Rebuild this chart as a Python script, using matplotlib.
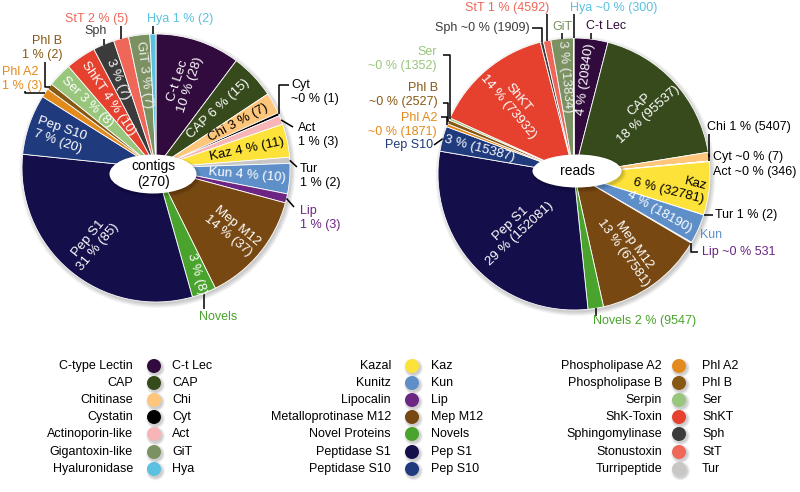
import numpy as np
import matplotlib.pyplot as plt
from matplotlib.patches import Circle, Ellipse

plt.rcParams['font.family'] = ['Liberation Sans', 'DejaVu Sans']

W, H = 800, 492

# slice order, clockwise from 12 o'clock
abbrev = ['C-t Lec', 'CAP', 'Chi', 'Cyt', 'Act', 'Kaz', 'Tur', 'Kun', 'Lip', 'Mep M12', 'Novels',
          'Pep S1', 'Pep S10', 'Phl A2', 'Phl B', 'Ser', 'ShKT', 'Sph', 'StT', 'GiT', 'Hya']
contigs = [28, 15, 7, 1, 3, 11, 2, 10, 3, 37, 8, 85, 20, 3, 2, 8, 10, 7, 5, 7, 2]
contig_pct = ['10', '6', '3', '~0', '1', '4', '1', '4', '1', '14', '3', '31', '7', '1', '1', '3', '4', '3', '2', '3', '1']
reads = [20840, 95537, 5407, 7, 346, 32781, 2, 18190, 531, 67581, 9547, 152081, 15387, 1871, 2527,
         1352, 73932, 1909, 4592, 13834, 300]
read_pct = ['4', '18', '1', '~0', '~0', '6', '1', '4', '~0', '13', '2', '29', '3', '~0', '~0', '~0', '14',
            '~0', '1', '3', '~0']

colors = {
    'C-t Lec': '#310b3d', 'CAP': '#364a1c', 'Chi': '#fec67a', 'Cyt': '#000000', 'Act': '#f7b5b7',
    'Kaz': '#fde23a', 'Tur': '#c9c7c6', 'Kun': '#5e8fc8', 'Lip': '#6c2583', 'Mep M12': '#774812',
    'Novels': '#4aa32c', 'Pep S1': '#140f4b', 'Pep S10': '#1f3a7d', 'Phl A2': '#e38a1c',
    'Phl B': '#875813', 'Ser': '#98c67c', 'ShKT': '#e5412e', 'Sph': '#3b3b3b', 'StT': '#ee6758',
    'GiT': '#7b9162', 'Hya': '#5bc1e0',
}

legend_cols = [
    [('C-type Lectin', 'C-t Lec'), ('CAP', 'CAP'), ('Chitinase', 'Chi'), ('Cystatin', 'Cyt'),
     ('Actinoporin-like', 'Act'), ('Gigantoxin-like', 'GiT'), ('Hyaluronidase', 'Hya')],
    [('Kazal', 'Kaz'), ('Kunitz', 'Kun'), ('Lipocalin', 'Lip'), ('Metalloprotinase M12', 'Mep M12'),
     ('Novel Proteins', 'Novels'), ('Peptidase S1', 'Pep S1'), ('Peptidase S10', 'Pep S10')],
    [('Phospholipase A2', 'Phl A2'), ('Phospholipase B', 'Phl B'), ('Serpin', 'Ser'),
     ('ShK-Toxin', 'ShKT'), ('Sphingomylinase', 'Sph'), ('Stonustoxin', 'StT'), ('Turripeptide', 'Tur')],
]

# inside labels: name, format, radial fraction, extra rotation, text colour, multialignment
left_inside = [
    ('C-t Lec', '{n}\n{p} % ({c})', 0.67, 0, 'white', 'center'),
    ('CAP', '{n} {p} % ({c})', 0.64, 0, 'white', 'center'),
    ('Chi', '{n} {p} % ({c})', 0.70, 0, 'black', 'center'),
    ('Kaz', '{n} {p} % ({c})', 0.69, 0, 'black', 'center'),
    ('Kun', '{n} {p} % ({c})', 0.68, 0, 'white', 'center'),
    ('Mep M12', '{n}\n{p} % ({c})', 0.74, 0, 'white', 'center'),
    ('Novels', '{p} % ({c})', 0.85, -5, 'white', 'center'),
    ('Pep S1', '{n}\n{p} % ({c})', 0.73, 0, 'white', 'center'),
    ('Pep S10', '{n}\n{p} % ({c})', 0.76, 0, 'white', 'center'),
    ('Ser', '{n} {p} % ({c})', 0.71, 0, 'white', 'center'),
    ('ShKT', '{n} {p} % ({c})', 0.63, 0, 'white', 'center'),
    ('Sph', '{p} % ({c})', 0.72, 0, 'white', 'center'),
    ('GiT', '{n} {p} % ({c})', 0.70, 0, '#eeeeee', 'center'),
]
right_inside = [
    ('C-t Lec', '{p} % ({c})', 0.70, 0, 'white', 'center'),
    ('CAP', '{n}\n{p} % ({c})', 0.70, 0, 'white', 'center'),
    ('Kaz', '{n}\n{p} % ({c})', 0.71, -8, 'black', 'right'),
    ('Kun', '{p} % ({c})', 0.69, -6, 'white', 'center'),
    ('Mep M12', '{n}\n{p} % ({c})', 0.68, 0, 'white', 'center'),
    ('Pep S1', '{n}\n{p} % ({c})', 0.59, 0, 'white', 'center'),
    ('Pep S10', '{p} % ({c})', 0.72, 0, 'white', 'center'),
    ('ShKT', '{n}\n{p} % ({c})', 0.69, 0, 'white', 'center'),
    ('GiT', '{p} % ({c})', 0.72, 0, '#eeeeee', 'center'),
]

# outside labels: text position in pixels from top-left, leader path (None -> anchor coordinate)
left_outside = [
    ('Cyt', '{n}\n{p} % ({c})', (291, 92), 'left', 'black', [(None, 85), (289, 85)]),
    ('Act', '{n}\n{p} % ({c})', (298, 135), 'left', 'black', [(293, 127)]),
    ('Tur', '{n}\n{p} % ({c})', (300, 176), 'left', 'black', [(297, 167)]),
    ('Lip', '{n}\n{p} % ({c})', (300, 218), 'left', colors['Lip'], [(294, 207)]),
    ('Novels', '{n}', (199, 317), 'left', colors['Novels'], [(None, 309)]),
    ('Phl A2', '{n}\n{p} % ({c})', (2, 79), 'left', colors['Phl A2'], [(25, None), (25, 91)]),
    ('Phl B', '{n}\n{p} % ({c})', (62, 48), 'right', colors['Phl B'], [(45, None), (45, 62)]),
    ('Sph', '{n}', (84, 31), 'left', colors['Sph'], [(None, 39)]),
    ('StT', '{n} {p} % ({c})', (65, 19), 'left', colors['StT'], [(None, 26)]),
    ('Hya', '{n} {p} % ({c})', (147, 19), 'left', colors['Hya'], [(None, 26)]),
]
right_outside = [
    ('Hya', '{n} {p} % ({c})', (570, 8), 'left', colors['Hya'], [(None, 14)]),
    ('StT', '{n} {p} % ({c})', (465, 8), 'left', colors['StT'], [(None, 14)]),
    ('Sph', '{n} {p} % ({c})', (530, 28), 'right', colors['Sph'], [(None, 28), (532, 28)]),
    ('GiT', '{n}', (552, 27), 'left', colors['GiT'], [(None, 33)]),
    ('C-t Lec', '{n}', (586, 26), 'left', colors['C-t Lec'], [(None, 33)]),
    ('Chi', '{n} {p} % ({c})', (707, 127), 'left', 'black', [(None, 134)]),
    ('Cyt', '{n} {p} % ({c})', (713, 157), 'left', 'black', [(None, 154)]),
    ('Act', '{n} {p} % ({c})', (713, 172), 'left', 'black', None),
    ('Tur', '{n} {p} % ({c})', (715, 215), 'left', 'black', [(713, None)]),
    ('Kun', '{n}', (700, 235), 'left', colors['Kun'], None),
    ('Lip', '{n} {p} % {c}', (702, 252), 'left', colors['Lip'], [(None, 252), (698, 252)]),
    ('Novels', '{n} {p} % ({c})', (593, 321), 'left', colors['Novels'], [(None, 316)]),
    ('Pep S10', '{n}', (433, 145), 'right', colors['Pep S10'], [(434, 145)]),
    ('Phl A2', '{n}\n{p} % ({c})', (437, 125), 'right', colors['Phl A2'], [(None, 117), (441, 117)]),
    ('Phl B', '{n}\n{p} % ({c})', (438, 95), 'right', colors['Phl B'], [(None, 103), (443, 103)]),
    ('Ser', '{n}\n{p} % ({c})', (437, 59), 'right', colors['Ser'], [(None, 55), (443, 55)]),
]

fig = plt.figure(figsize=(W / 100, H / 100), dpi=100)
ax = fig.add_axes([0, 0, 1, 1])


def shadow_circle(x, y, r, steps=6, alpha=0.035):
    for k in range(steps):
        ax.add_patch(Circle((x + 1.5, y - 2), r + k * 0.8, color='black', alpha=alpha, lw=0, zorder=0))


def draw_pie(values, pct, cx, cy, r, inside, outside, centre, ell):
    shadow_circle(cx, H - cy, r)
    wedges, _ = ax.pie(values, colors=[colors[a] for a in abbrev], startangle=90, counterclock=False,
                       radius=r, center=(cx, H - cy),
                       wedgeprops=dict(edgecolor='white', linewidth=0.6))
    for name, fmt, f, dr, col, ma in inside:
        i = abbrev.index(name)
        w = wedges[i]
        mid = (w.theta1 + w.theta2) / 2
        t = np.deg2rad(mid)
        m = (mid + 180) % 360 - 180
        rot = m - 180 if m > 90 else (m + 180 if m < -90 else m)
        ax.text(cx + f * r * np.cos(t), H - cy + f * r * np.sin(t),
                fmt.format(n=name, p=pct[i], c=values[i]), rotation=rot + dr, rotation_mode='anchor',
                ha='center', va='center', multialignment=ma, color=col, fontsize=9.5, zorder=4,
                linespacing=1.15)
    for name, fmt, (tx, ty), ha, col, path in outside:
        i = abbrev.index(name)
        w = wedges[i]
        t = np.deg2rad((w.theta1 + w.theta2) / 2)
        axx, axy = cx + r * np.cos(t), H - cy + r * np.sin(t)
        if path:
            xs, ys = [axx], [axy]
            for px, py in path:
                xs.append(axx if px is None else px)
                ys.append(axy if py is None else H - py)
            ax.plot(xs, ys, color='black', lw=1.1, zorder=3, solid_capstyle='butt')
        ax.text(tx, H - ty, fmt.format(n=name, p=pct[i], c=values[i]), ha=ha, va='center',
                multialignment=ha, color=col, fontsize=9, zorder=4, linespacing=1.2)
    ex, ey, ew, eh = ell
    for k in range(5):
        ax.add_patch(Ellipse((ex + 1.5, H - ey - 2), ew + k * 1.5, eh + k * 1.5, color='black',
                             alpha=0.04, lw=0, zorder=2))
    ax.add_patch(Ellipse((ex, H - ey), ew, eh, facecolor='white', edgecolor='none', zorder=3))
    ax.text(ex, H - ey, centre, ha='center', va='center', fontsize=10, zorder=4, linespacing=1.1)


draw_pie(contigs, contig_pct, 156, 168, 134, left_inside, left_outside, 'contigs\n(270)', (153, 174, 87, 39))
draw_pie(reads, read_pct, 574, 174, 136, right_inside, right_outside, 'reads', (577, 171, 89, 33))

# legend
rows = [366, 383, 400, 417, 434, 452, 469]
col_x = [(133, 154, 172), (391, 412, 431), (662, 679, 702)]
for (xn, xc, xa), entries in zip(col_x, legend_cols):
    for yy, (full, short) in zip(rows, entries):
        shadow_circle(xc, H - yy, 7, steps=4, alpha=0.05)
        ax.add_patch(Circle((xc, H - yy), 7, color=colors[short], lw=0, zorder=2))
        ax.text(xn, H - yy, full, ha='right', va='center', fontsize=9)
        ax.text(xa, H - yy, short, ha='left', va='center', fontsize=9)

ax.set_xlim(0, W)
ax.set_ylim(0, H)
ax.set_aspect('equal')
ax.axis('off')
fig.savefig('out.png', dpi=100)
